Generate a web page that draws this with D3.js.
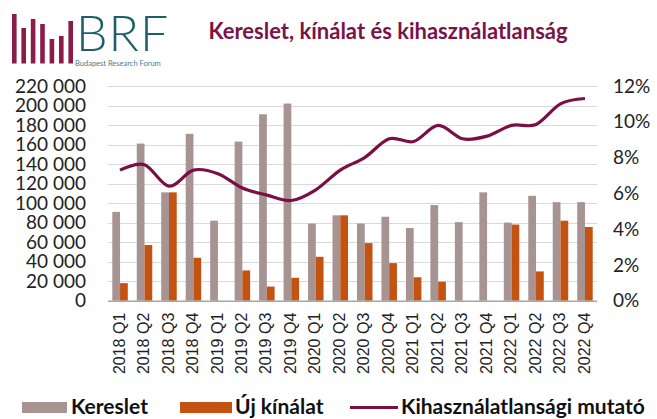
<!DOCTYPE html>
<html>
<head>
<meta charset="utf-8">
<script src="https://cdn.jsdelivr.net/npm/d3@7"></script>
<style>
  body { margin: 0; background: #fff; }
  svg { display: block; font-family: Lato, "Open Sans", sans-serif; }
</style>
</head>
<body>
<script>
// quarters on the x axis
var quarters = ["2018 Q1", "2018 Q2", "2018 Q3", "2018 Q4",
                "2019 Q1", "2019 Q2", "2019 Q3", "2019 Q4",
                "2020 Q1", "2020 Q2", "2020 Q3", "2020 Q4",
                "2021 Q1", "2021 Q2", "2021 Q3", "2021 Q4",
                "2022 Q1", "2022 Q2", "2022 Q3", "2022 Q4"];

// demand (m2)
var kereslet = [91000, 161000, 111000, 171000, 82000, 163000, 191000, 202000,
                79000, 87500, 79000, 86000, 74500, 98000, 80500, 111000,
                80000, 107500, 101000, 101000];

// new supply (m2)
var ujKinalat = [18000, 57000, 111000, 44000, 0, 31000, 14500, 23500,
                 45000, 87500, 59000, 38500, 24000, 19500, 0, 0,
                 78000, 30000, 82000, 75500];

// vacancy rate (%)
var mutato = [7.3, 7.6, 6.4, 7.3, 7.1, 6.3, 5.9, 5.6,
              6.2, 7.3, 8.0, 9.05, 8.9, 9.8, 9.05, 9.2,
              9.8, 9.85, 11.0, 11.3];

var leftTicks = [0, 20000, 40000, 60000, 80000, 100000, 120000, 140000, 160000, 180000, 200000, 220000];
var rightTicks = [0, 2, 4, 6, 8, 10, 12];

// logo bar tops (decoration)
var logoTops = [14, 28, 19, 24, 39, 36, 21];

var w = 657, h = 419;
var cKereslet = "#a69392", cUj = "#c45311", cLine = "#7a0f45";

var svg = d3.select("body").append("svg")
    .attr("width", w)
    .attr("height", h);

// logo
var logo = svg.append("g").attr("class", "logo");
logo.selectAll("rect")
    .data(logoTops)
    .enter()
    .append("rect")
    .attr("x", function(d, i){ return 12 + i * 9.4; })
    .attr("y", function(d){ return d; })
    .attr("width", 4.6)
    .attr("height", function(d){ return 63.5 - d; })
    .style("fill", "#8a1c4a");
logo.append("text")
    .attr("x", 76)
    .attr("y", 51)
    .style("font-size", "50px")
    .style("font-weight", 300)
    .style("letter-spacing", "1px")
    .style("fill", "#1c5f6b")
    .text("BRF");
logo.append("text")
    .attr("x", 75)
    .attr("y", 66)
    .style("font-size", "7.5px")
    .style("fill", "#3f7f8c")
    .text("Budapest Research Forum");

// title
svg.append("text")
    .attr("x", 388)
    .attr("y", 39)
    .attr("text-anchor", "middle")
    .style("font-size", "22px")
    .style("font-weight", "bold")
    .style("fill", "#7a1448")
    .text("Kereslet, kínálat és kihasználatlanság");

// scales
var x0 = d3.scaleBand()
    .domain(quarters)
    .range([107.8, 597.2])
    .paddingInner(0.367)
    .paddingOuter(0.1835);

var x1 = d3.scaleBand()
    .domain(["k", "u"])
    .range([0, x0.bandwidth()]);

var y = d3.scaleLinear()
    .domain([0, 220000])
    .range([300.7, 86]);

var y2 = d3.scaleLinear()
    .domain([0, 12])
    .range([300.7, 86]);

// gridlines
svg.append("g")
    .selectAll("line")
    .data(leftTicks.slice(1))
    .enter()
    .append("line")
    .attr("x1", 107.8)
    .attr("x2", 597.2)
    .attr("y1", function(d){ return Math.round(y(d)) + 0.5; })
    .attr("y2", function(d){ return Math.round(y(d)) + 0.5; })
    .style("stroke", "#d9d9d9")
    .style("stroke-width", 1);

// left axis
var fmt = function(d){ return d3.format(",")(d).replace(/,/g, " "); };
var yAxis = d3.axisLeft(y).tickValues(leftTicks).tickSize(0).tickPadding(0).tickFormat(fmt);
var gy = svg.append("g")
    .attr("transform", "translate(86,0)")
    .call(yAxis);
gy.select(".domain").remove();
gy.selectAll("text")
    .style("font-family", "Lato, sans-serif")
    .style("font-size", "19px")
    .style("fill", "#222");

// right axis
var y2Axis = d3.axisRight(y2).tickValues(rightTicks).tickSize(0).tickPadding(0)
    .tickFormat(function(d){ return d + "%"; });
var gy2 = svg.append("g")
    .attr("transform", "translate(613,0)")
    .call(y2Axis);
gy2.select(".domain").remove();
gy2.selectAll("text")
    .style("font-family", "Lato, sans-serif")
    .style("font-size", "19px")
    .style("fill", "#222");

// bars
var groups = svg.append("g")
    .selectAll("g")
    .data(quarters)
    .enter()
    .append("g")
    .attr("transform", function(d){ return "translate(" + x0(d) + ",0)"; });

groups.append("rect")
    .attr("x", x1("k"))
    .attr("width", x1.bandwidth())
    .attr("y", function(d, i){ return y(kereslet[i]); })
    .attr("height", function(d, i){ return y(0) - y(kereslet[i]); })
    .style("fill", cKereslet);

groups.append("rect")
    .attr("x", x1("u"))
    .attr("width", x1.bandwidth())
    .attr("y", function(d, i){ return y(ujKinalat[i]); })
    .attr("height", function(d, i){ return y(0) - y(ujKinalat[i]); })
    .style("fill", cUj);

// x axis
var xAxis = d3.axisBottom(x0).tickSize(0).tickPadding(0);
var gx = svg.append("g")
    .attr("transform", "translate(0," + y(0) + ")")
    .call(xAxis);
gx.select(".domain")
    .attr("d", "M107.8,0.5H597.2")
    .style("stroke", "#a6a6a6")
    .style("stroke-width", 1.5);
gx.selectAll("text")
    .attr("transform", "translate(-1,12) rotate(-90)")
    .attr("dy", "0.35em")
    .attr("y", 0)
    .attr("x", 0)
    .attr("text-anchor", "end")
    .style("font-family", "'Liberation Sans', Arial, sans-serif")
    .style("font-size", "16px")
    .style("fill", "#222");

// vacancy line
var line = d3.line()
    .x(function(d, i){ return x0(quarters[i]) + x0.bandwidth() / 2; })
    .y(function(d){ return y2(d); })
    .curve(d3.curveCardinal);

svg.append("path")
    .datum(mutato)
    .attr("d", line)
    .style("fill", "none")
    .style("stroke", cLine)
    .style("stroke-width", 3.2);

// legend
var legend = svg.append("g").style("font-size", "21px").style("font-weight", "bold").style("fill", "#111");
legend.append("rect").attr("x", 22).attr("y", 402).attr("width", 45).attr("height", 11).style("fill", cKereslet);
legend.append("text").attr("x", 71).attr("y", 414).text("Kereslet");
legend.append("rect").attr("x", 180).attr("y", 402).attr("width", 52).attr("height", 11).style("fill", cUj);
legend.append("text").attr("x", 235).attr("y", 414).text("Új kínálat");
legend.append("line").attr("x1", 350).attr("x2", 398).attr("y1", 407.5).attr("y2", 407.5)
    .style("stroke", cLine).style("stroke-width", 3);
legend.append("text").attr("x", 401).attr("y", 414).text("Kihasználatlansági mutató");
</script>
</body>
</html>
